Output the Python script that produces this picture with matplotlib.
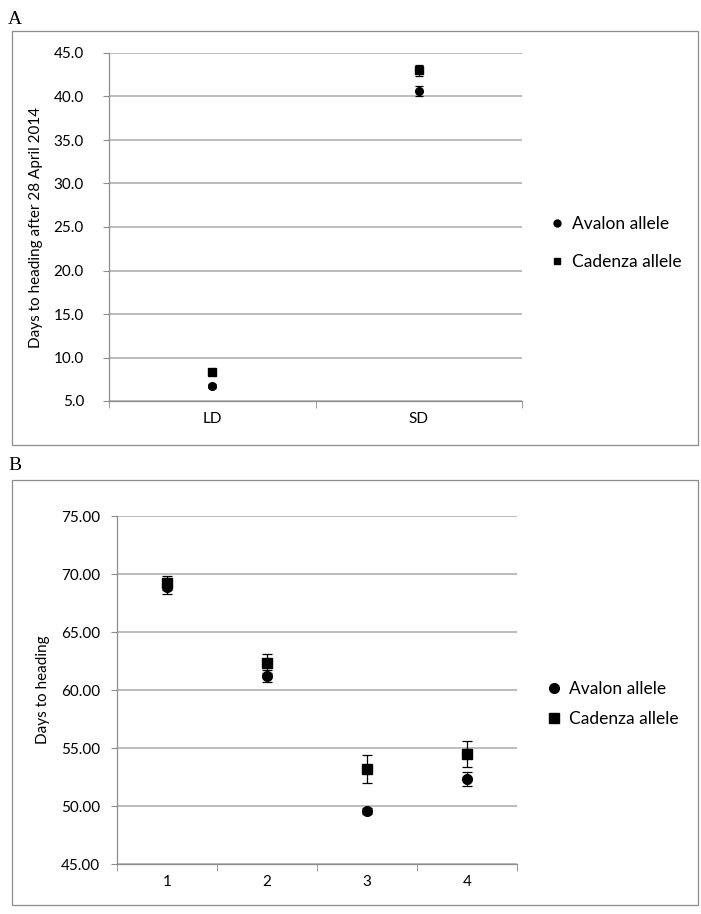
import matplotlib
matplotlib.use("Agg")
import matplotlib.pyplot as plt
from matplotlib.lines import Line2D
from matplotlib.patches import Rectangle
from matplotlib.ticker import FormatStrFormatter, FixedLocator

# ---- data ----
a_categories = ["LD", "SD"]
a_avalon = [6.7, 40.6]
a_avalon_err = [0.2, 0.6]
a_cadenza = [8.3, 43.0]
a_cadenza_err = [0.25, 0.6]
a_yticks = [5, 10, 15, 20, 25, 30, 35, 40, 45]

b_categories = ["1", "2", "3", "4"]
b_avalon = [68.9, 61.2, 49.6, 52.3]
b_avalon_err = [0.6, 0.5, 0.25, 0.6]
b_cadenza = [69.2, 62.3, 53.2, 54.5]
b_cadenza_err = [0.6, 0.8, 1.2, 1.1]
b_yticks = [45, 50, 55, 60, 65, 70, 75]

series_names = ["Avalon allele", "Cadenza allele"]

W, H = 701, 914
FONT = ["Lato", "DejaVu Sans"]
plt.rcParams["font.family"] = FONT

fig = plt.figure(figsize=(W / 100, H / 100), dpi=100)


def fx(px):
    return px / W


def fy(py):
    return 1 - py / H


def frame(x0, y0, x1, y1):
    fig.patches.append(Rectangle((fx(x0), fy(y1)), fx(x1) - fx(x0), fy(y0) - fy(y1),
                                 transform=fig.transFigure, fill=False,
                                 edgecolor="#8c8c8c", linewidth=0.9))


def style(ax, ncat, yticks, fmt, ylabel, ypad):
    ax.set_facecolor("white")
    for s in ["top", "right"]:
        ax.spines[s].set_visible(False)
    for s in ["left", "bottom"]:
        ax.spines[s].set_color("#8c8c8c")
        ax.spines[s].set_linewidth(0.9)
    ax.set_yticks(yticks)
    ax.yaxis.set_major_formatter(FormatStrFormatter(fmt))
    ax.grid(axis="y", color="#bdbdbd", linewidth=1.4)
    ax.set_axisbelow(True)
    ax.tick_params(axis="y", length=4, color="#8c8c8c", labelsize=11, pad=ypad)
    ax.tick_params(axis="x", which="major", length=0, labelsize=11, pad=8)
    ax.xaxis.set_minor_locator(FixedLocator([i for i in range(ncat + 1)]))
    ax.tick_params(axis="x", which="minor", length=5, color="#8c8c8c")
    ax.set_ylabel(ylabel, fontsize=11, labelpad=8)


# ---- Panel A ----
frame(12, 31, 698, 445)
fig.text(fx(8), fy(20), "A", fontsize=14, family=["Liberation Serif"], va="center", ha="left")
axA = fig.add_axes([fx(109), fy(401), fx(522) - fx(109), fy(53) - fy(401)])
xa = [i + 0.5 for i in range(len(a_categories))]
axA.errorbar(xa, a_avalon, yerr=a_avalon_err, fmt="o", color="black", ms=5.5,
             capsize=3, elinewidth=0.9, capthick=0.9)
axA.errorbar(xa, a_cadenza, yerr=a_cadenza_err, fmt="s", color="black", ms=5.5,
             capsize=3, elinewidth=0.9, capthick=0.9)
axA.set_xlim(0, len(a_categories))
axA.set_ylim(5, 45)
axA.set_xticks(xa)
axA.set_xticklabels(a_categories)
style(axA, len(a_categories), a_yticks, "%.1f", "Days to heading after 28 April 2014", 14)
handlesA = [Line2D([], [], marker="o", ls="none", color="black", ms=5),
            Line2D([], [], marker="s", ls="none", color="black", ms=5)]
fig.legend(handlesA, series_names, loc="center left",
           bbox_to_anchor=(fx(542), fy(243)), frameon=False, fontsize=12.5,
           handlelength=0.7, handletextpad=0.5, labelspacing=1.25, borderpad=0)

# ---- Panel B ----
frame(12, 480, 698, 905)
fig.text(fx(8), fy(466), "B", fontsize=14, family=["Liberation Serif"], va="center", ha="left")
axB = fig.add_axes([fx(117), fy(864), fx(517) - fx(117), fy(516) - fy(864)])
xb = [i + 0.5 for i in range(len(b_categories))]
axB.errorbar(xb, b_avalon, yerr=b_avalon_err, fmt="o", color="black", ms=7,
             capsize=3.5, elinewidth=0.9, capthick=0.9)
axB.errorbar(xb, b_cadenza, yerr=b_cadenza_err, fmt="s", color="black", ms=7,
             capsize=3.5, elinewidth=0.9, capthick=0.9)
axB.set_xlim(0, len(b_categories))
axB.set_ylim(45, 75)
axB.set_xticks(xb)
axB.set_xticklabels(b_categories)
style(axB, len(b_categories), b_yticks, "%.2f", "Days to heading", 8)
handlesB = [Line2D([], [], marker="o", ls="none", color="black", ms=7),
            Line2D([], [], marker="s", ls="none", color="black", ms=7)]
fig.legend(handlesB, series_names, loc="center left",
           bbox_to_anchor=(fx(539), fy(704)), frameon=False, fontsize=12.5,
           handlelength=0.7, handletextpad=0.5, labelspacing=0.85, borderpad=0)

fig.savefig("out.png", dpi=100, facecolor="white")
